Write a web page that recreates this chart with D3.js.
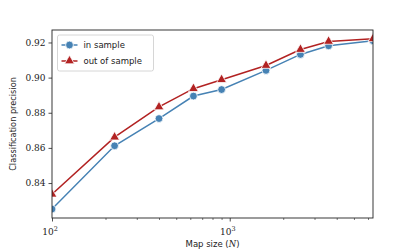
<!DOCTYPE html>
<html>
<head>
<meta charset="utf-8">
<script src="https://cdn.jsdelivr.net/npm/d3@7"></script>
<style>
  body { margin: 0; background: #fff; }
  svg { display: block; }
</style>
</head>
<body>
<svg id="chart" width="415" height="249"></svg>
<script>
// map sizes (N) and precision for the two series
var mapSizes = [100, 225, 400, 625, 900, 1600, 2500, 3600, 6400];
var inSample = [0.8252, 0.8612, 0.8767, 0.8895, 0.8932, 0.9041, 0.9132, 0.9181, 0.9210];
var outSample = [0.8336, 0.8661, 0.8833, 0.8937, 0.8988, 0.9069, 0.9160, 0.9206, 0.9221];
var yTicks = [0.84, 0.86, 0.88, 0.90, 0.92];
var xMajor = [100, 1000];
var xMinor = [200, 300, 400, 500, 600, 700, 800, 900, 2000, 3000, 4000, 5000, 6000];

var svg = d3.select('#chart');
var pLeft = 52, pRight = 373, pTop = 30, pBottom = 218;

var x = d3.scaleLog().domain([100, 6400]).range([pLeft, pRight]);
var y = d3.scaleLinear().domain([0.8201, 0.9271]).range([pBottom, pTop]);

var serif = "'DejaVu Serif', serif";
var sans = "'DejaVu Sans', sans-serif";

// ticks on the y axis
var yAxis = svg.append("g")
    .attr("transform", "translate(" + pLeft + ",0)")
    .call(d3.axisLeft(y).tickValues(yTicks).tickSize(3.5).tickPadding(3).tickFormat(d3.format(".2f")));
yAxis.select(".domain").remove();
yAxis.selectAll("text").style("font-family", serif).style("font-size", "9px").attr("fill", "#222");
yAxis.selectAll("line").attr("stroke", "#222").attr("stroke-width", 0.8);

// x axis: major + minor ticks
var xAxis = svg.append("g")
    .attr("transform", "translate(0," + pBottom + ")")
    .call(d3.axisBottom(x).tickValues(xMajor).tickSize(3.5).tickFormat(""));
xAxis.select(".domain").remove();
xAxis.selectAll("line").attr("stroke", "#222").attr("stroke-width", 0.8);

var xMin = svg.append("g")
    .attr("transform", "translate(0," + pBottom + ")")
    .call(d3.axisBottom(x).tickValues(xMinor).tickSize(2).tickFormat(""));
xMin.select(".domain").remove();
xMin.selectAll("line").attr("stroke", "#222").attr("stroke-width", 0.6);

xMajor.forEach(function(v) {
  var t = svg.append("text")
      .attr("x", x(v) - 2)
      .attr("y", pBottom + 17)
      .attr("text-anchor", "middle")
      .style("font-family", serif)
      .style("font-size", "9px")
      .attr("fill", "#222");
  t.append("tspan").text("10");
  t.append("tspan").attr("dy", -4).style("font-size", "6.5px").text(Math.round(Math.log10(v)));
});

// axis labels
svg.append("text")
    .attr("transform", "translate(16," + ((pTop + pBottom) / 2) + ") rotate(-90)")
    .attr("text-anchor", "middle")
    .style("font-family", sans)
    .style("font-size", "8.2px")
    .attr("fill", "#222")
    .text("Classification precision");

var xl = svg.append("text")
    .attr("x", (pLeft + pRight) / 2)
    .attr("y", 247)
    .attr("text-anchor", "middle")
    .style("font-family", sans)
    .style("font-size", "8.5px")
    .attr("fill", "#222");
xl.append("tspan").text("Map size (");
xl.append("tspan").style("font-family", serif).style("font-style", "italic").text("N");
xl.append("tspan").text(")");

// clip lines to the axes area
svg.append("clipPath").attr("id", "clip")
  .append("rect").attr("x", pLeft).attr("y", pTop).attr("width", pRight - pLeft).attr("height", pBottom - pTop);

var plot = svg.append("g").attr("clip-path", "url(#clip)");

var line = d3.line()
    .x(function(d) { return x(d[0]); })
    .y(function(d) { return y(d[1]); });

var series = [
  {name: "in sample", vals: inSample, color: "steelblue", marker: "circle"},
  {name: "out of sample", vals: outSample, color: "firebrick", marker: "triangle"}
];

var circleSym = d3.symbol().type(d3.symbolCircle).size(48);
var triSym = d3.symbol().type(d3.symbolTriangle).size(42);

series.forEach(function(s) {
  var pts = mapSizes.map(function(n, i) { return [n, s.vals[i]]; });
  plot.append("path")
      .datum(pts)
      .attr("d", line)
      .attr("fill", "none")
      .attr("stroke", s.color)
      .attr("stroke-width", 1.5);
  plot.selectAll(null)
      .data(pts)
      .enter().append("path")
      .attr("d", s.marker == "circle" ? circleSym : triSym)
      .attr("transform", function(d) { return "translate(" + x(d[0]) + "," + y(d[1]) + ")"; })
      .attr("fill", s.color)
      .attr("stroke", "#fff")
      .attr("stroke-width", 0.8);
});

// frame
svg.append("rect")
    .attr("x", pLeft).attr("y", pTop)
    .attr("width", pRight - pLeft).attr("height", pBottom - pTop)
    .attr("fill", "none")
    .attr("stroke", "#222")
    .attr("stroke-width", 0.9);

// legend
var lg = svg.append("g").attr("transform", "translate(57.5,35)");
lg.append("rect")
    .attr("width", 96).attr("height", 36)
    .attr("rx", 2)
    .attr("fill", "#fff")
    .attr("fill-opacity", 0.8)
    .attr("stroke", "#ccc")
    .attr("stroke-width", 0.8);
series.forEach(function(s, i) {
  var gy = 10 + i * 16;
  lg.append("line")
      .attr("x1", 4).attr("x2", 20)
      .attr("y1", gy).attr("y2", gy)
      .attr("stroke", s.color).attr("stroke-width", 1.5);
  lg.append("path")
      .attr("d", s.marker == "circle" ? circleSym : triSym)
      .attr("transform", "translate(12," + gy + ")")
      .attr("fill", s.color)
      .attr("stroke", "#fff")
      .attr("stroke-width", 0.8);
  lg.append("text")
      .attr("x", 26).attr("y", gy + 3)
      .style("font-family", sans)
      .style("font-size", "8.5px")
      .attr("fill", "#222")
      .text(s.name);
});
</script>
</body>
</html>
